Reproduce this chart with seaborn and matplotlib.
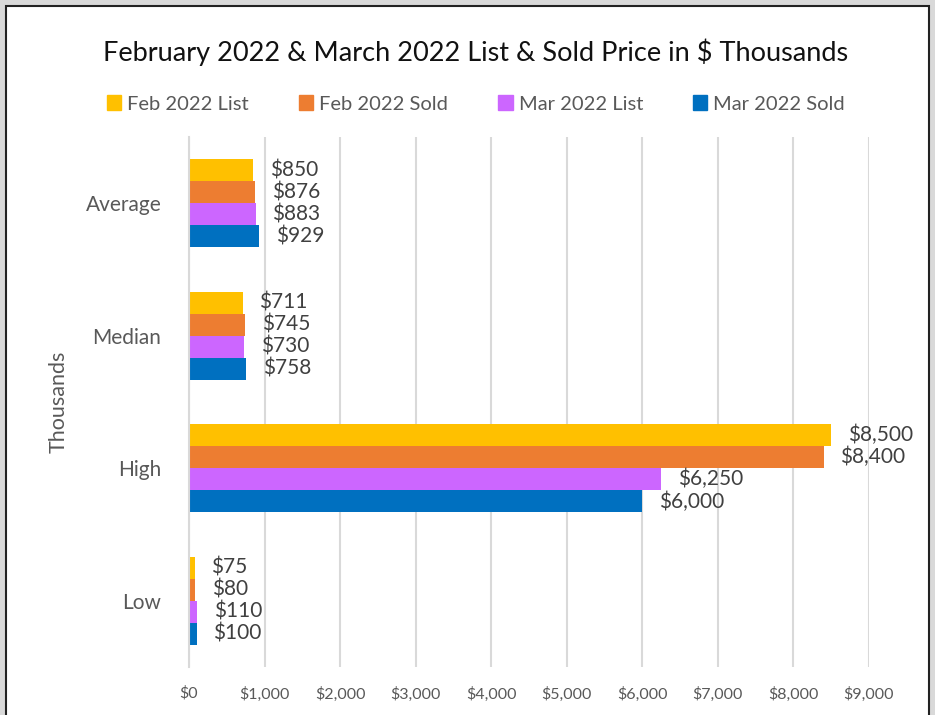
import pandas as pd
import seaborn as sns
import matplotlib.pyplot as plt
from matplotlib.patches import Rectangle
from matplotlib.ticker import FuncFormatter

# data
categories = ['Average', 'Median', 'High', 'Low']
feb_list = [850, 711, 8500, 75]
feb_sold = [876, 745, 8400, 80]
mar_list = [883, 730, 6250, 110]
mar_sold = [929, 758, 6000, 100]
series = ['Feb 2022 List', 'Feb 2022 Sold', 'Mar 2022 List', 'Mar 2022 Sold']
colors = ['#FFC000', '#ED7D31', '#CC66FF', '#0070C0']
x_ticks = [0, 1000, 2000, 3000, 4000, 5000, 6000, 7000, 8000, 9000]

rows = []
for name, vals in zip(series, [feb_list, feb_sold, mar_list, mar_sold]):
    for cat, v in zip(categories, vals):
        rows.append({'Category': cat, 'Series': name, 'Value': v})
df = pd.DataFrame(rows)

sns.set_style('white')
plt.rcParams['font.family'] = ['Lato', 'DejaVu Sans']

fig = plt.figure(figsize=(9.35, 7.15), dpi=100)
fig.patch.set_facecolor('#d9d9d9')
# white chart area with dark frame
fig.patches.append(Rectangle((6 / 935, -0.02), 923 / 935, 1.0 - 6 / 715 + 0.02,
                             transform=fig.transFigure, facecolor='white',
                             edgecolor='#222222', linewidth=1.5, zorder=-5))

ax = fig.add_axes([189 / 935, 1 - 667 / 715, 680 / 935, 530 / 715])
ax.set_zorder(2)
sns.barplot(data=df, y='Category', x='Value', hue='Series', order=categories,
            hue_order=series, palette=colors, orient='h', width=0.667,
            gap=0, saturation=1, linewidth=0, ax=ax, legend=False)

for cont in ax.containers:
    ax.bar_label(cont, labels=[f'${v:,.0f}' for v in cont.datavalues],
                 padding=12, fontsize=15, color='#404040')

ax.set_xlim(0, 9000)
ax.set_xticks(x_ticks)
ax.xaxis.set_major_formatter(FuncFormatter(lambda v, p: f'${v:,.0f}'))
ax.grid(axis='x', color='#d9d9d9', linewidth=1.5)
ax.set_axisbelow(True)
for s in ['top', 'right', 'bottom']:
    ax.spines[s].set_visible(False)
ax.spines['left'].set_color('#d9d9d9')
ax.spines['left'].set_linewidth(1.5)
ax.tick_params(axis='x', length=0, labelsize=11.5, labelcolor='#595959', pad=14)
ax.tick_params(axis='y', length=0, labelsize=15, labelcolor='#595959', pad=20)
ax.set_xlabel('')
ax.set_ylabel('Thousands', fontsize=15.5, color='#595959', labelpad=12)
ax.set_facecolor('none')

fig.text(476 / 935, 1 - 52 / 715,
         'February 2022 & March 2022 List & Sold Price in $ Thousands',
         ha='center', va='center', fontsize=19.5, color='#111111')

handles = [Rectangle((0, 0), 1, 1, color=c) for c in colors]
fig.legend(handles, series, loc='center', bbox_to_anchor=(476 / 935, 1 - 104 / 715),
           ncol=4, frameon=False, fontsize=14.5, labelcolor='#595959',
           handlelength=0.7, handleheight=0.7, handletextpad=0.3, columnspacing=2.5)

fig.savefig('out.png', dpi=100, facecolor=fig.get_facecolor())
